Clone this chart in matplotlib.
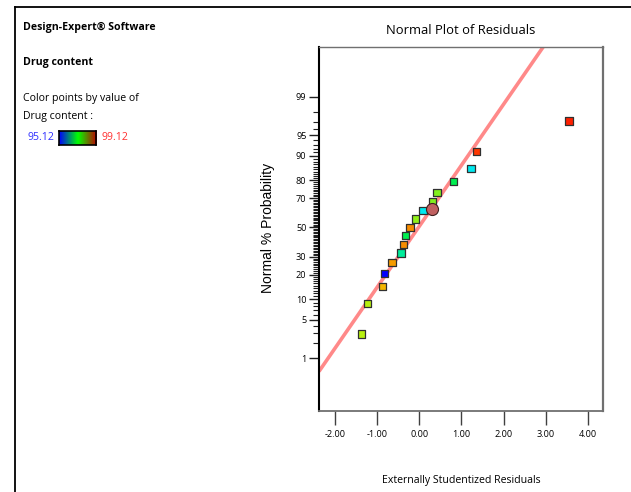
"""Normal plot of residuals (Design-Expert style) for drug content."""

from statistics import NormalDist

import numpy as np
import matplotlib
matplotlib.use("Agg")
import matplotlib.pyplot as plt
from matplotlib.colors import LinearSegmentedColormap, Normalize

# residuals, sorted
residuals = [-1.37, -1.23, -0.87, -0.82, -0.65, -0.43, -0.37, -0.32, -0.22,
             -0.09, 0.09, 0.32, 0.42, 0.81, 1.23, 1.36, 3.55]
# normal % probability of each point
probability = [2.9, 8.8, 14.7, 20.6, 26.5, 32.4, 38.2, 44.1, 50.0,
               55.9, 61.8, 67.6, 73.5, 79.4, 85.3, 91.2, 97.1]
# drug content estimated from point colour
drug_content = [97.88, 97.88, 98.40, 95.12, 98.52, 96.64, 98.60, 97.04, 98.60,
                97.72, 96.20, 97.66, 97.66, 97.04, 96.20, 99.00, 99.12]
dc_min, dc_max = 95.12, 99.12

# fitted normal line
fit_mean, fit_sd = -0.02, 0.92
# highlighted point
hl_x, hl_p = 0.30, 62.7

y_ticks = [1, 5, 10, 20, 30, 50, 70, 80, 90, 95, 99]
x_ticks = [-2, -1, 0, 1, 2, 3, 4]

nd = NormalDist()


def z(p):
    return nd.inv_cdf(p / 100.0)


font = "Open Sans"
plt.rcParams["font.family"] = [font, "DejaVu Sans"]

fig = plt.figure(figsize=(6.31, 4.92), dpi=100)

# frame lines of the software window
fig.add_artist(plt.Line2D([15 / 631, 1], [1 - 7 / 492] * 2, color="black", lw=1.3))
fig.add_artist(plt.Line2D([15 / 631] * 2, [0, 1 - 7 / 492], color="black", lw=1.3))

# left side legend text
fig.text(23 / 631, 1 - 27 / 492, "Design-Expert\u00ae Software", fontsize=7.6,
         fontweight="bold", va="center")
fig.text(23 / 631, 1 - 63 / 492, "Drug content", fontsize=7.6,
         fontweight="bold", va="center")
fig.text(23 / 631, 1 - 98 / 492, "Color points by value of", fontsize=7.6, va="center")
fig.text(23 / 631, 1 - 116 / 492, "Drug content :", fontsize=7.6, va="center")
fig.text(27 / 631, 1 - 138 / 492, f"{dc_min:.2f}", fontsize=7.6, va="center",
         color="#3030ff")
fig.text(101 / 631, 1 - 138 / 492, f"{dc_max:.2f}", fontsize=7.6, va="center",
         color="#ff3030")

bar_cmap = LinearSegmentedColormap.from_list("bar", ["#0000ff", "#00ff00", "#c00000"])
cax = fig.add_axes([59 / 631, 1 - 145 / 492, 37 / 631, 14 / 492])
cax.imshow(np.linspace(0, 1, 100)[None, :], aspect="auto", cmap=bar_cmap)
cax.set_xticks([])
cax.set_yticks([])
for s in cax.spines.values():
    s.set_linewidth(1.2)

pt_cmap = LinearSegmentedColormap.from_list(
    "pts", ["#0000ff", "#00e8ff", "#00f040", "#f0f000", "#ff2000"])
norm = Normalize(dc_min, dc_max)

ax = fig.add_axes([319 / 631, 1 - 411 / 492, 284 / 631, 364 / 492])
ax.set_xlim(-2.38, 4.36)
ax.set_ylim(-3.271, 3.217)

# fit line
xl = np.array(ax.get_xlim())
ax.plot(xl, (xl - fit_mean) / fit_sd, color="#ff7575", lw=2.6, alpha=0.85,
        solid_capstyle="butt", zorder=2, clip_on=True)

zs = [z(p) for p in probability]
ax.scatter(residuals, zs, marker="s", s=28, c=pt_cmap(norm(drug_content)),
           edgecolors="#303030", linewidths=0.9, zorder=3)
ax.scatter([hl_x], [z(hl_p)], marker="o", s=75, color="#c06060",
           edgecolors="#402020", linewidths=0.8, zorder=4)

ax.set_yticks([z(p) for p in y_ticks])
ax.set_yticklabels([str(p) for p in y_ticks])
ax.set_yticks([z(p) for p in range(2, 99) if p not in y_ticks], minor=True)
ax.set_xticks(x_ticks)
ax.set_xticklabels([f"{v:.2f}" for v in x_ticks])

ax.tick_params(axis="y", which="major", length=7, width=1.0, labelsize=6.6,
               pad=2, color="#202020")
ax.tick_params(axis="y", which="minor", length=4, width=0.8, color="#202020")
ax.tick_params(axis="x", which="major", length=10, width=1.0, labelsize=6.6,
               pad=4, color="#404040")

ax.spines["left"].set_color("black")
ax.spines["left"].set_linewidth(1.5)
for side in ("top", "right", "bottom"):
    ax.spines[side].set_color("#707070")
ax.spines["right"].set_linewidth(1.6)
ax.spines["bottom"].set_linewidth(1.3)
ax.spines["top"].set_linewidth(1.0)

fig.text(461 / 631, 1 - 30 / 492, "Normal Plot of Residuals", fontsize=9.4,
         ha="center", va="center")
fig.text(461 / 631, 1 - 481 / 492, "Externally Studentized Residuals", fontsize=7.6,
         ha="center", va="center")
fig.text(268 / 631, 1 - 228 / 492, "Normal % Probability", fontsize=10,
         ha="center", va="center", rotation=90, family="Liberation Sans")

fig.savefig("out.png", dpi=100)
